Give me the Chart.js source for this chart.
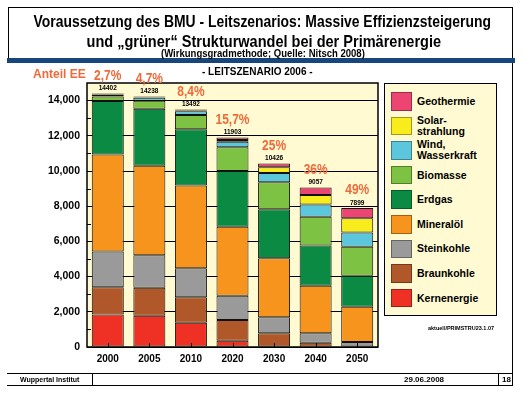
<!DOCTYPE html>
<html>
<head>
<meta charset="utf-8">
<script src="https://cdn.jsdelivr.net/npm/chart.js@4.4.0/dist/chart.umd.min.js"></script>
<style>
  body { margin: 0; background: #fff; font-family: "Liberation Sans", Arial, sans-serif; }
  #wrap { position: relative; width: 526px; height: 393px; overflow: hidden; }
  #chart { position: absolute; left: 0; top: 0; }
  .t { position: absolute; white-space: nowrap; font-weight: bold; line-height: 1; color: #000; }
  .fit { transform-origin: left top; }
  .ln { position: absolute; background: #000; }
  #legend { position: absolute; left: 384px; top: 83px; width: 111px; height: 226px;
            border: 1px solid #000; background: #fffad2; box-sizing: content-box; padding-top: 5px; }
  .item { display: flex; align-items: center; height: 24.6px; }
  .sw { width: 19px; height: 16.5px; margin-left: 6px; margin-right: 5px; border: 1px solid rgba(0,0,0,0.35); }
  .lt { font-weight: bold; font-size: 10.5px; line-height: 11px; }
</style>
</head>
<body>
<div id="wrap">
  <canvas id="chart" width="526" height="393"></canvas>

  <!-- header frame -->
  <div class="ln" style="left:8px; top:7px; width:505px; height:1px;"></div>
  <div class="ln" style="left:8px; top:7px; width:1px; height:52px;"></div>
  <div class="ln" style="left:512px; top:7px; width:1px; height:378px;"></div>
  <div class="ln" style="left:7px; top:58px; width:508px; height:5px; background:#17477a;"></div>

  <div class="t fit" data-w="457" style="left:261.5px; top:12.5px; font-size:16.5px;">Voraussetzung des BMU - Leitszenarios: Massive Effizienzsteigerung</div>
  <div class="t fit" data-w="355" style="left:263.5px; top:33px; font-size:16.5px;">und „grüner“ Strukturwandel bei der Primärenergie</div>
  <div class="t fit" data-w="204" style="left:263px; top:49px; font-size:10px;">(Wirkungsgradmethode; Quelle: Nitsch 2008)</div>

  <div class="t" style="left:33px; top:68px; font-size:12px; color:#ee6a3a;">Anteil EE</div>
  <div class="t" style="left:202px; top:66.5px; font-size:10px;">- LEITSZENARIO 2006 -</div>

  <div id="legend"></div>
  <div class="t" style="left:428px; top:326px; font-size:5.5px;">aktuell/PRIMSTRU23.1.07</div>

  <!-- footer -->
  <div class="ln" style="left:7px; top:373px; width:506px; height:1px;"></div>
  <div class="ln" style="left:7px; top:385px; width:506px; height:1px;"></div>
  <div class="ln" style="left:92px; top:373px; width:1px; height:13px;"></div>
  <div class="ln" style="left:498px; top:373px; width:1px; height:13px;"></div>
  <div class="t" style="left:20px; top:376px; font-size:7px;">Wuppertal Institut</div>
  <div class="t" style="left:404px; top:375.5px; font-size:8px;">29.06.2008</div>
  <div class="t" style="left:502px; top:375.5px; font-size:8px;">18</div>
</div>

<script>
// Primärenergieverbrauch in PJ, Leitszenario 2006
const years = ['2000', '2005', '2010', '2020', '2030', '2040', '2050'];

const kernenergie = [1850, 1780, 1380, 360, 0, 0, 0];
const braunkohle  = [1540, 1590, 1440, 1170, 780, 240, 0];
const steinkohle  = [2040, 1840, 1650, 1380, 910, 540, 280];
const mineraloel  = [5510, 5090, 4710, 3920, 3350, 2700, 2010];
const erdgas      = [3040, 3240, 3190, 3170, 2780, 2280, 1760];
const biomasse    = [260, 455, 810, 1347, 1540, 1640, 1650];
const windWasser  = [80, 170, 220, 318, 530, 700, 800];
const solar       = [20, 30, 40, 96, 320, 540, 820];
const geothermie  = [62, 43, 52, 142, 216, 417, 579];

const anteilEE = ['2,7%', '4,7%', '8,4%', '15,7%', '25%', '36%', '49%'];

const yTicks = [0, 2000, 4000, 6000, 8000, 10000, 12000, 14000];

// stacking order bottom -> top
const series = [
    { label: ['Kernenergie'], data: kernenergie, color: '#ee3124' },
    { label: ['Braunkohle'], data: braunkohle, color: '#b1582b' },
    { label: ['Steinkohle'], data: steinkohle, color: '#9a9a9a' },
    { label: ['Mineralöl'], data: mineraloel, color: '#f7941d' },
    { label: ['Erdgas'], data: erdgas, color: '#0b8a44' },
    { label: ['Biomasse'], data: biomasse, color: '#7dc242' },
    { label: ['Wind,', 'Wasserkraft'], data: windWasser, color: '#5bc6dc' },
    { label: ['Solar-', 'strahlung'], data: solar, color: '#f8ec1c' },
    { label: ['Geothermie'], data: geothermie, color: '#ec4572' }
];

const FONT = '"Liberation Sans", Arial, sans-serif';

/**
 * Background, minor ticks, frame, totals and EE shares
 */
const decorPlugin = {
    id: 'decor',
    beforeDraw(chart) {
        const a = chart.chartArea;
        const ctx = chart.ctx;
        ctx.save();
        ctx.fillStyle = '#fffad2';
        ctx.fillRect(a.left, a.top, a.right - a.left, a.bottom - a.top);
        ctx.restore();
    },
    afterDatasetsDraw(chart) {
        const a = chart.chartArea;
        const ctx = chart.ctx;
        const x = chart.scales.x;
        const y = chart.scales.y;
        ctx.save();
        ctx.strokeStyle = '#000';
        ctx.lineWidth = 1;

        // minor ticks on the inner left edge
        for (let v = 1000; v < 15000; v += 2000) {
            const py = Math.round(y.getPixelForValue(v)) + 0.5;
            ctx.beginPath();
            ctx.moveTo(a.left, py);
            ctx.lineTo(a.left + 4, py);
            ctx.stroke();
        }
        // category ticks at bottom
        years.forEach((yr, i) => {
            const px = Math.round(x.getPixelForValue(i)) + 0.5;
            ctx.beginPath();
            ctx.moveTo(px, a.bottom);
            ctx.lineTo(px, a.bottom - 4);
            ctx.stroke();
        });

        // plot frame
        ctx.lineWidth = 1.5;
        ctx.strokeRect(a.left, a.top, a.right - a.left, a.bottom - a.top);

        // totals and EE shares above bars
        years.forEach((yr, i) => {
            const total = series.reduce((s, d) => s + d.data[i], 0);
            const px = x.getPixelForValue(i);
            const top = y.getPixelForValue(total);

            ctx.fillStyle = '#000';
            ctx.font = 'bold 6.5px ' + FONT;
            ctx.textAlign = 'center';
            ctx.textBaseline = 'middle';
            ctx.fillText(String(total), px, top - 5);

            ctx.save();
            ctx.translate(px, top - 18);
            ctx.scale(0.8, 1);
            ctx.fillStyle = '#ee6a3a';
            ctx.font = 'bold 15px ' + FONT;
            ctx.fillText(anteilEE[i], 0, 0);
            ctx.restore();
        });
        ctx.restore();
    }
};

new Chart(document.getElementById('chart'), {
    type: 'bar',
    data: {
        labels: years,
        datasets: series.map(s => ({
            label: s.label.join(' '),
            data: s.data,
            backgroundColor: s.color,
            borderColor: '#111',
            borderWidth: 1,
            borderSkipped: false,
            categoryPercentage: 1,
            barPercentage: 0.77
        }))
    },
    options: {
        responsive: false,
        animation: false,
        devicePixelRatio: 1,
        layout: { padding: { left: 0, top: 83, right: 148, bottom: 26 } },
        scales: {
            x: {
                stacked: true,
                grid: { display: false, drawTicks: false },
                border: { display: false },
                ticks: { color: '#000', padding: 6, font: { family: FONT, size: 10, weight: 'bold' } },
                afterFit: (s) => { s.height = 20; }
            },
            y: {
                stacked: true,
                min: 0,
                max: 15000,
                afterBuildTicks: (s) => { s.ticks = yTicks.map(v => ({ value: v })); },
                grid: { color: '#000', lineWidth: 1, drawTicks: false },
                border: { display: false },
                ticks: {
                    color: '#000',
                    padding: 7,
                    font: { family: FONT, size: 10.5, weight: 'bold' },
                    callback: (v) => v.toLocaleString('en-US')
                },
                afterFit: (s) => { s.width = 87; }
            }
        },
        plugins: {
            legend: { display: false },
            tooltip: { enabled: false }
        }
    },
    plugins: [decorPlugin]
});

// legend box, top entry = top of stack
const legend = document.getElementById('legend');
series.slice().reverse().forEach(s => {
    const item = document.createElement('div');
    item.className = 'item';
    item.innerHTML = '<div class="sw" style="background:' + s.color + '"></div>' +
        '<div class="lt">' + s.label.join('<br>') + '</div>';
    legend.appendChild(item);
});

// squeeze the title lines to the width they have in the slide, centred on their left value
document.querySelectorAll('.fit').forEach(el => {
    const target = Number(el.dataset.w);
    const w = el.offsetWidth;
    const k = Math.min(1, target / w);
    el.style.transform = 'translateX(' + (-w * k / 2) + 'px) scaleX(' + k + ')';
});
</script>
</body>
</html>
